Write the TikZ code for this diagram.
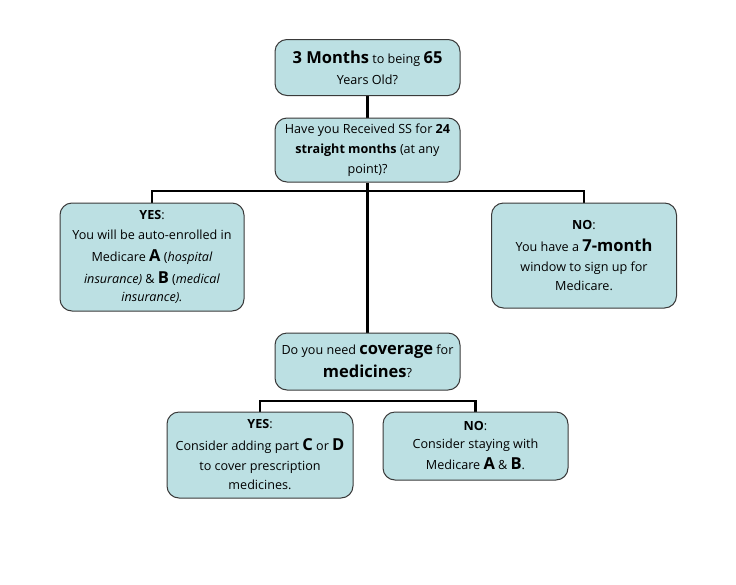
\documentclass[tikz,border=0pt]{standalone}
\usepackage{fontspec}
\setmainfont{Open Sans}
\usetikzlibrary{backgrounds}
\definecolor{boxfill}{HTML}{BCE0E3}
\definecolor{boxline}{HTML}{3A3A3A}
\newcommand{\bigb}[1]{{\fontsize{16.5}{18}\selectfont\bfseries #1}}
\begin{document}
\begin{tikzpicture}[x=1pt,y=-1pt,
  box/.style={draw=boxline, line width=1pt, fill=boxfill, rounded corners=12pt,
    align=center, inner sep=0pt, font=\fontsize{12.6}{20}\selectfont},
  conn/.style={line width=2.6pt, draw=black}]
\useasboundingbox (0,0) rectangle (736,584);
\node[box, minimum width=185pt, minimum height=56pt] (q1) at (367.5,67.5)
  {\bigb{3 Months} to being \bigb{65}\\[1pt] Years Old?};
\node[box, minimum width=185pt, minimum height=64pt] (q2) at (367.5,150)
  {Have you Received SS for \textbf{24}\\ \textbf{straight months} (at any\\ point)?};
\node[box, minimum width=184pt, minimum height=108pt] (yes1) at (152,257)
  {\textbf{YES}:\\ You will be auto-enrolled in\\[2pt] Medicare \bigb{A} (\textit{hospital}\\[2pt] \textit{insurance)} \& \bigb{B} (\textit{medical}\\[-2pt] \textit{insurance).}};
\node[box, minimum width=185pt, minimum height=105pt] (no1) at (584,255.5)
  {\textbf{NO}:\\[2pt] You have a \bigb{7-month}\\ window to sign up for\\[-1pt] Medicare.};
\node[box, minimum width=185pt, minimum height=57pt] (q3) at (367.5,361.5)
  {Do you need \bigb{coverage} for\\[3pt] \bigb{medicines}?};
\node[box, minimum width=186pt, minimum height=86pt] (yes2) at (260,455)
  {\textbf{YES}:\\[2pt] Consider adding part \bigb{C} or \bigb{D}\\ to cover prescription\\[-1pt] medicines.};
\node[box, minimum width=185pt, minimum height=68pt] (no2) at (475.5,446)
  {\textbf{NO}:\\[-2pt] Consider staying with\\[1pt] Medicare \bigb{A} \& \bigb{B}.};
\begin{scope}[on background layer]
\fill[white] (0,0) rectangle (736,584);
\coordinate (h1) at (367.5,191);
\coordinate (h2) at (367.5,401);
\draw[conn] (q1.south) -- (q2.north);
\draw[conn] (q2.south) -- (q3.north);
\draw[conn] (yes1.north) |- (h1) -| (no1.north);
\draw[conn] (yes2.north) |- (h2) -| (no2.north);
\end{scope}
\end{tikzpicture}
\end{document}
